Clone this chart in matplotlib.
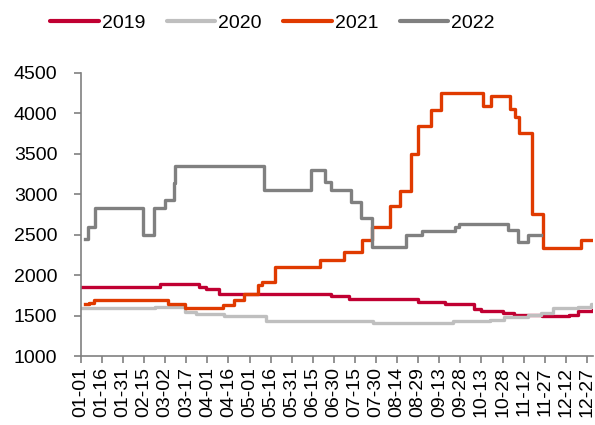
import matplotlib
matplotlib.use("Agg")
import matplotlib.pyplot as plt
import pandas as pd

plt.rcParams["font.family"] = ["Liberation Sans", "DejaVu Sans"]

# change points of each year's series (MM-DD, value), held until next point
days_2019 = ["01-01", "02-26", "03-26", "03-31", "04-09", "06-28", "07-11",
             "08-29", "09-17", "10-08", "10-13", "10-28", "11-05", "11-25",
             "12-14", "12-21", "12-31"]
vals_2019 = [1855, 1885, 1850, 1825, 1770, 1745, 1700,
             1665, 1640, 1580, 1555, 1535, 1510, 1500,
             1510, 1555, 1570]

days_2020 = ["01-01", "02-23", "03-16", "03-24", "04-13", "05-13", "07-28",
             "09-23", "10-19", "10-29", "11-15", "11-24", "12-03", "12-21",
             "12-30", "12-31"]
vals_2020 = [1590, 1610, 1550, 1520, 1500, 1440, 1415,
             1435, 1450, 1480, 1505, 1535, 1590, 1610,
             1645, 1645]

days_2021 = ["01-04", "01-07", "01-10", "03-04", "03-16", "04-12", "04-20",
             "04-27", "05-07", "05-10", "05-19", "06-20", "07-07", "07-20",
             "07-27", "08-09", "08-16", "08-24", "08-29", "09-07", "09-14",
             "10-14", "10-20", "11-02", "11-06", "11-09", "11-18", "11-26",
             "12-23", "12-31"]
vals_2021 = [1640, 1660, 1690, 1650, 1600, 1630, 1690,
             1770, 1880, 1920, 2100, 2190, 2290, 2440,
             2600, 2850, 3040, 3490, 3845, 4040, 4250,
             4090, 4210, 4050, 3950, 3750, 2750, 2340,
             2440, 2440]

days_2022 = ["01-04", "01-06", "01-11", "02-14", "02-22", "03-02", "03-08",
             "03-09", "05-11", "06-14", "06-24", "06-28", "07-12", "07-19",
             "07-27", "08-20", "09-01", "09-24", "09-27", "11-01", "11-08",
             "11-15", "11-24"]
vals_2022 = [2450, 2600, 2835, 2490, 2835, 2930, 3140,
             3345, 3050, 3295, 3155, 3050, 2900, 2700,
             2350, 2500, 2550, 2595, 2630, 2555, 2405,
             2500, 2500]

series = [
    ("2019", days_2019, vals_2019, "#C00032"),
    ("2020", days_2020, vals_2020, "#BFBFBF"),
    ("2021", days_2021, vals_2021, "#E03A00"),
    ("2022", days_2022, vals_2022, "#808080"),
]

tick_labels = ["01-01", "01-16", "01-31", "02-15", "03-02", "03-17", "04-01",
               "04-16", "05-01", "05-16", "05-31", "06-15", "06-30", "07-15",
               "07-30", "08-14", "08-29", "09-13", "09-28", "10-13", "10-28",
               "11-12", "11-27", "12-12", "12-27"]


def day_of_year(md):
    # non-leap reference year for the month-day axis
    return pd.Timestamp("2021-" + md).dayofyear - 1


fig = plt.figure(figsize=(5.95, 4.25), dpi=100)
ax = fig.add_axes([0.136, 0.162, 0.861, 0.667])

for name, days, vals, color in series:
    x = [day_of_year(d) for d in days]
    ax.plot(x, vals, drawstyle="steps-post", color=color, lw=2.4,
            label=name, solid_joinstyle="round")

ax.set_xlim(0, 364.5)
ax.set_ylim(1000, 4500)
ax.set_yticks(range(1000, 4501, 500))
ax.set_xticks([day_of_year(t) for t in tick_labels])
ax.set_xticklabels(tick_labels, rotation=90)

for side in ["top", "right"]:
    ax.spines[side].set_visible(False)
for side in ["left", "bottom"]:
    ax.spines[side].set_color("#808080")
    ax.spines[side].set_linewidth(1.2)
ax.tick_params(axis="both", colors="#808080", labelcolor="black",
               direction="out", length=5, width=1.2, labelsize=14)
ax.tick_params(axis="y", pad=12)
ax.tick_params(axis="x", pad=3)

leg = fig.legend(loc="center", bbox_to_anchor=(0.458, 0.946), ncol=4,
                 frameon=False, fontsize=14, handlelength=2.5,
                 handletextpad=0.15, columnspacing=1.1)
for line in leg.get_lines():
    line.set_linewidth(3)
    line.set_solid_capstyle("round")

fig.savefig("out.png", dpi=100)
